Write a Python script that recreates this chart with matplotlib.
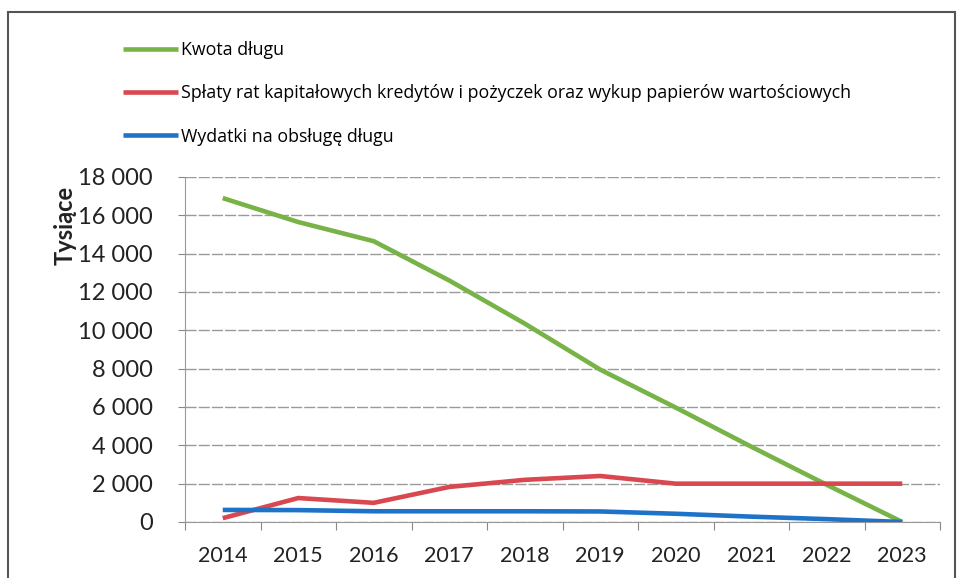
import matplotlib.pyplot as plt
from matplotlib.patches import Rectangle

years = ['2014', '2015', '2016', '2017', '2018', '2019', '2020', '2021', '2022', '2023']
kwota_dlugu = [16900, 15650, 14650, 12600, 10350, 7950, 5970, 3930, 1940, 0]
splaty_rat = [200, 1250, 1000, 1830, 2200, 2400, 2000, 2000, 2000, 2000]
wydatki_obsluga = [630, 620, 560, 560, 560, 550, 430, 280, 150, 0]
yticks = [0, 2000, 4000, 6000, 8000, 10000, 12000, 14000, 16000, 18000]
ytick_labels = ['0', '2 000', '4 000', '6 000', '8 000', '10 000', '12 000', '14 000', '16 000', '18 000']

series_names = ['Kwota długu',
                'Spłaty rat kapitałowych kredytów i pożyczek oraz wykup papierów wartościowych',
                'Wydatki na obsługę długu']
colors = ['#77B346', '#D9474F', '#1E73C8']

plt.rcParams['font.family'] = ['Lato', 'DejaVu Sans']

px = 1/plt.rcParams['figure.dpi']
fig = plt.figure(figsize=(957*px, 578*px))
fig.patch.set_facecolor('white')

# plot area in pixels: left 185, right 940, top 177, bottom 522
ax = fig.add_axes([185/957, 1-522/578, (940-185)/957, (522-177)/578])

x = list(range(len(years)))
lines = []
for vals, c in zip([kwota_dlugu, splaty_rat, wydatki_obsluga], colors):
    ln, = ax.plot(x, vals, color=c, lw=3.3, solid_capstyle='butt', zorder=3)
    lines.append(ln)

ax.set_yticks(yticks)
ax.set_yticklabels(ytick_labels, fontsize=17, color='#222222')
ax.set_xticks(x)
ax.set_xticklabels(years, fontsize=15.5, color='#222222')
ax.tick_params(axis='x', length=0, pad=17)
ax.tick_params(axis='y', length=5, width=0.8, color='#888888', pad=18)

# category boundary ticks on the x axis
ax.set_xticks([i + 0.5 for i in range(-1, 10)], minor=True)
ax.tick_params(axis='x', which='minor', length=6, width=0.8, color='#888888')

ax.set_xlim(-0.5, 9.5)
ax.set_ylim(0, 18000)

ax.grid(axis='y', color='#9a9a9a', lw=1, ls=(0, (8, 1.5)))
ax.set_axisbelow(True)
for s in ['top', 'right']:
    ax.spines[s].set_visible(False)
ax.spines['left'].set_color('#999999')
ax.spines['bottom'].set_color('#999999')

ax.set_ylabel('Tysiące', fontsize=17, fontweight='bold', color='#222222')
ax.yaxis.set_label_coords(-108/755, 0.86)

fig.legend(lines, series_names, loc='upper left', bbox_to_anchor=(116/957, 1-34/578),
           frameon=False, prop={'family': 'Open Sans', 'size': 12.8},
           handlelength=3.1, handletextpad=0.15,
           labelspacing=1.42, borderaxespad=0)

# outer frame of the chart
fig.patches.append(Rectangle((8/957, -0.01), (955-8)/957, 1-12/578 + 0.01,
                             transform=fig.transFigure, fill=False,
                             ec='#555555', lw=1.5))

plt.savefig('out.png')
